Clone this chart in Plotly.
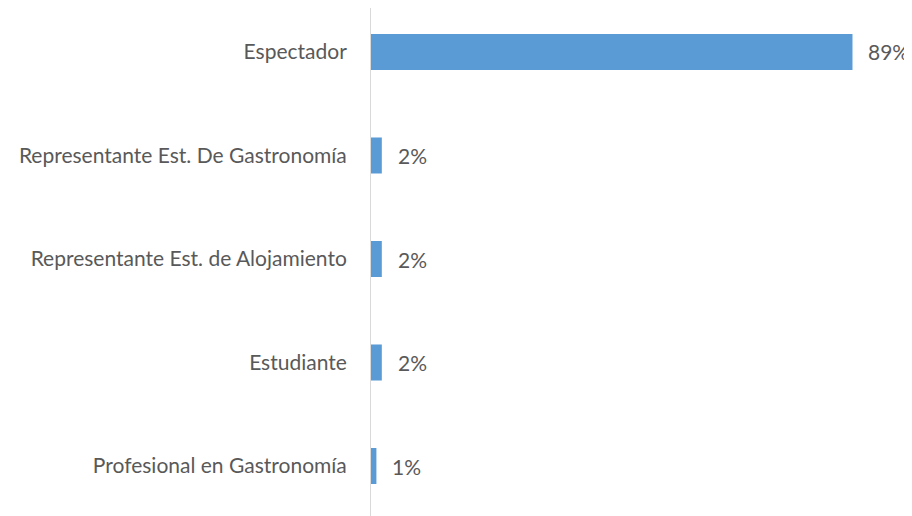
import plotly.graph_objects as go

categories = ["Espectador", "Representante Est. De Gastronomía",
              "Representante Est. de Alojamiento", "Estudiante",
              "Profesional en Gastronomía"]
values = [89, 2, 2, 2, 1]
labels = ["89%", "2%", "2%", "2%", "1%"]

font_family = "Lato, Open Sans, sans-serif"
text_color = "#595959"
fsize = 21

fig = go.Figure(go.Bar(
    x=values, y=categories, orientation="h",
    marker=dict(color="#5B9BD5", line=dict(width=0)),
    hoverinfo="skip",
))

for c, v, t in zip(categories, values, labels):
    fig.add_annotation(x=v, y=c, text=t, showarrow=False, xanchor="left",
                       xshift=14, font=dict(family=font_family, size=fsize, color=text_color))

fig.update_layout(
    width=904, height=508,
    margin=dict(l=363, r=0, t=0, b=0),
    paper_bgcolor="white", plot_bgcolor="white",
    bargap=0.652,
    showlegend=False,
    font=dict(family=font_family, size=fsize, color=text_color),
    xaxis=dict(range=[0, 100], visible=False),
    yaxis=dict(range=[4.483, -0.425], showline=True, linecolor="#D9D9D9", linewidth=1,
               showgrid=False, zeroline=False, ticks="", ticklabelstandoff=19,
               tickfont=dict(family=font_family, size=fsize, color=text_color)),
)

fig.write_html("out.html")
